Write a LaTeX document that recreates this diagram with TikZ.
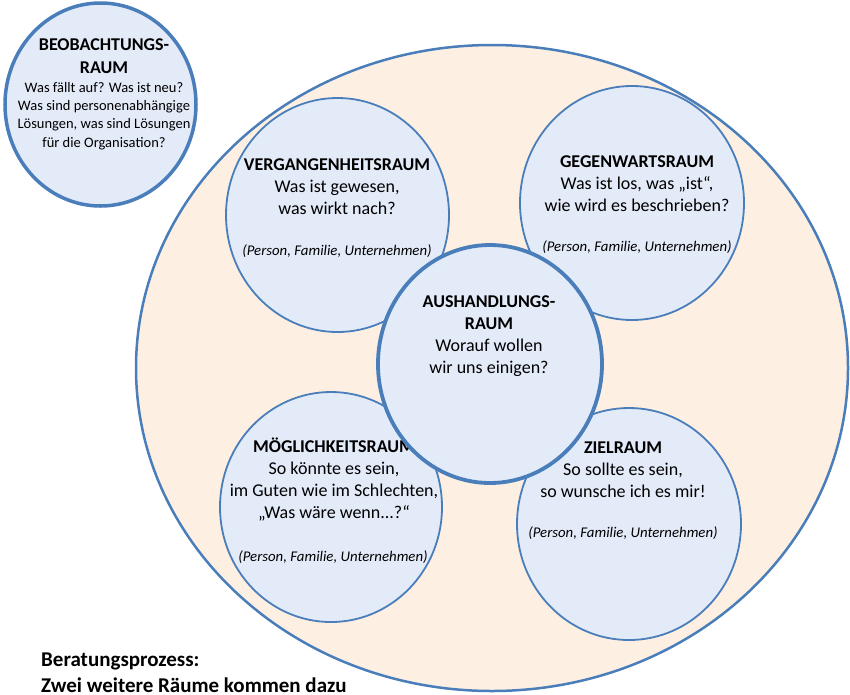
\documentclass[tikz,border=0pt]{standalone}
\usepackage{fontspec}
\setmainfont{Carlito}
\usetikzlibrary{shapes.geometric}
\definecolor{edgeblue}{RGB}{74,126,187}
\definecolor{bubble}{RGB}{228,235,248}
\definecolor{peach}{RGB}{254,239,227}
\tikzset{
  room/.style={ellipse, draw=edgeblue, fill=bubble, line width=1.8pt, inner sep=0pt},
  bigroom/.style={room, line width=3.8pt},
  txt/.style={align=center, inner sep=0pt, anchor=base, font=\fontsize{18}{22}\selectfont},
  note/.style={inner sep=0pt, anchor=base, font=\fontsize{14.8}{17}\selectfont\itshape},
  smalltitle/.style={align=center, inner sep=0pt, anchor=base, font=\fontsize{18}{23}\selectfont\bfseries},
  smalltxt/.style={align=center, inner sep=0pt, anchor=base, font=\fontsize{14.5}{18.3}\selectfont},
  caption/.style={align=left, inner sep=0pt, anchor=base west, font=\fontsize{21}{25.5}\selectfont\bfseries},
}
\begin{document}
\begin{tikzpicture}[x=1pt,y=-1pt]
\useasboundingbox (0,0) rectangle (850,694);
\begin{scope}
\clip (0,0) rectangle (850,694);
% outer space
\node[ellipse, draw=edgeblue, fill=peach, line width=2.5pt, inner sep=0pt,
      minimum width=712pt, minimum height=646pt] (outer) at (492,368) {};

% observation room
\node[bigroom, line width=3.5pt, minimum width=191pt, minimum height=203pt] (beob) at (100.5,104.5) {};
\node[smalltitle] (beobtitle) at (104,73) {BEOBACHTUNGS-\\RAUM};
\node[smalltxt] (beobtxt) at (104,147) {Was fällt auf? Was ist neu?\\Was sind personenabhängige\\Lösungen, was sind Lösungen\\für die Organisation?};

% past
\node[room, minimum width=223pt, minimum height=234pt] (verg) at (337.5,215) {};
\node[txt] (vergtxt) at (337,214) {\textbf{VERGANGENHEITSRAUM}\\Was ist gewesen,\\was wirkt nach?};
\node[note] (vergnote) at (337,255) {(Person, Familie, Unternehmen)};

% present
\node[room, minimum width=224pt, minimum height=234pt] (gegen) at (632,203) {};
\node[txt] (gegentxt) at (637,211) {\textbf{GEGENWARTSRAUM}\\Was ist los, was „ist“,\\wie wird es beschrieben?};
\node[note] (gegennote) at (637,251) {(Person, Familie, Unternehmen)};

% possibilities
\node[room, minimum width=222pt, minimum height=230pt] (moegl) at (331,507) {};
\node[txt] (moegltxt) at (334,518) {\textbf{MÖGLICHKEITSRAUM}\\So könnte es sein,\\im Guten wie im Schlechten,\\„Was wäre wenn...?“};
\node[note] (moeglnote) at (333,561) {(Person, Familie, Unternehmen)};

% goal
\node[room, minimum width=224pt, minimum height=232pt] (ziel) at (629,524) {};
\node[txt] (zieltxt) at (623,497) {\textbf{ZIELRAUM}\\So sollte es sein,\\so wunsche ich es mir!};
\node[note] (zielnote) at (623,537) {(Person, Familie, Unternehmen)};

% negotiation
\node[bigroom, minimum width=224pt, minimum height=238pt] (aush) at (490,364) {};
\node[txt] (aushtxt) at (489,373) {\textbf{AUSHANDLUNGS-}\\\textbf{RAUM}\\Worauf wollen\\wir uns einigen?};

% caption
\node[caption] (cap) at (41,692) {Beratungsprozess:\\Zwei weitere Räume kommen dazu};
\end{scope}
\end{tikzpicture}
\end{document}
